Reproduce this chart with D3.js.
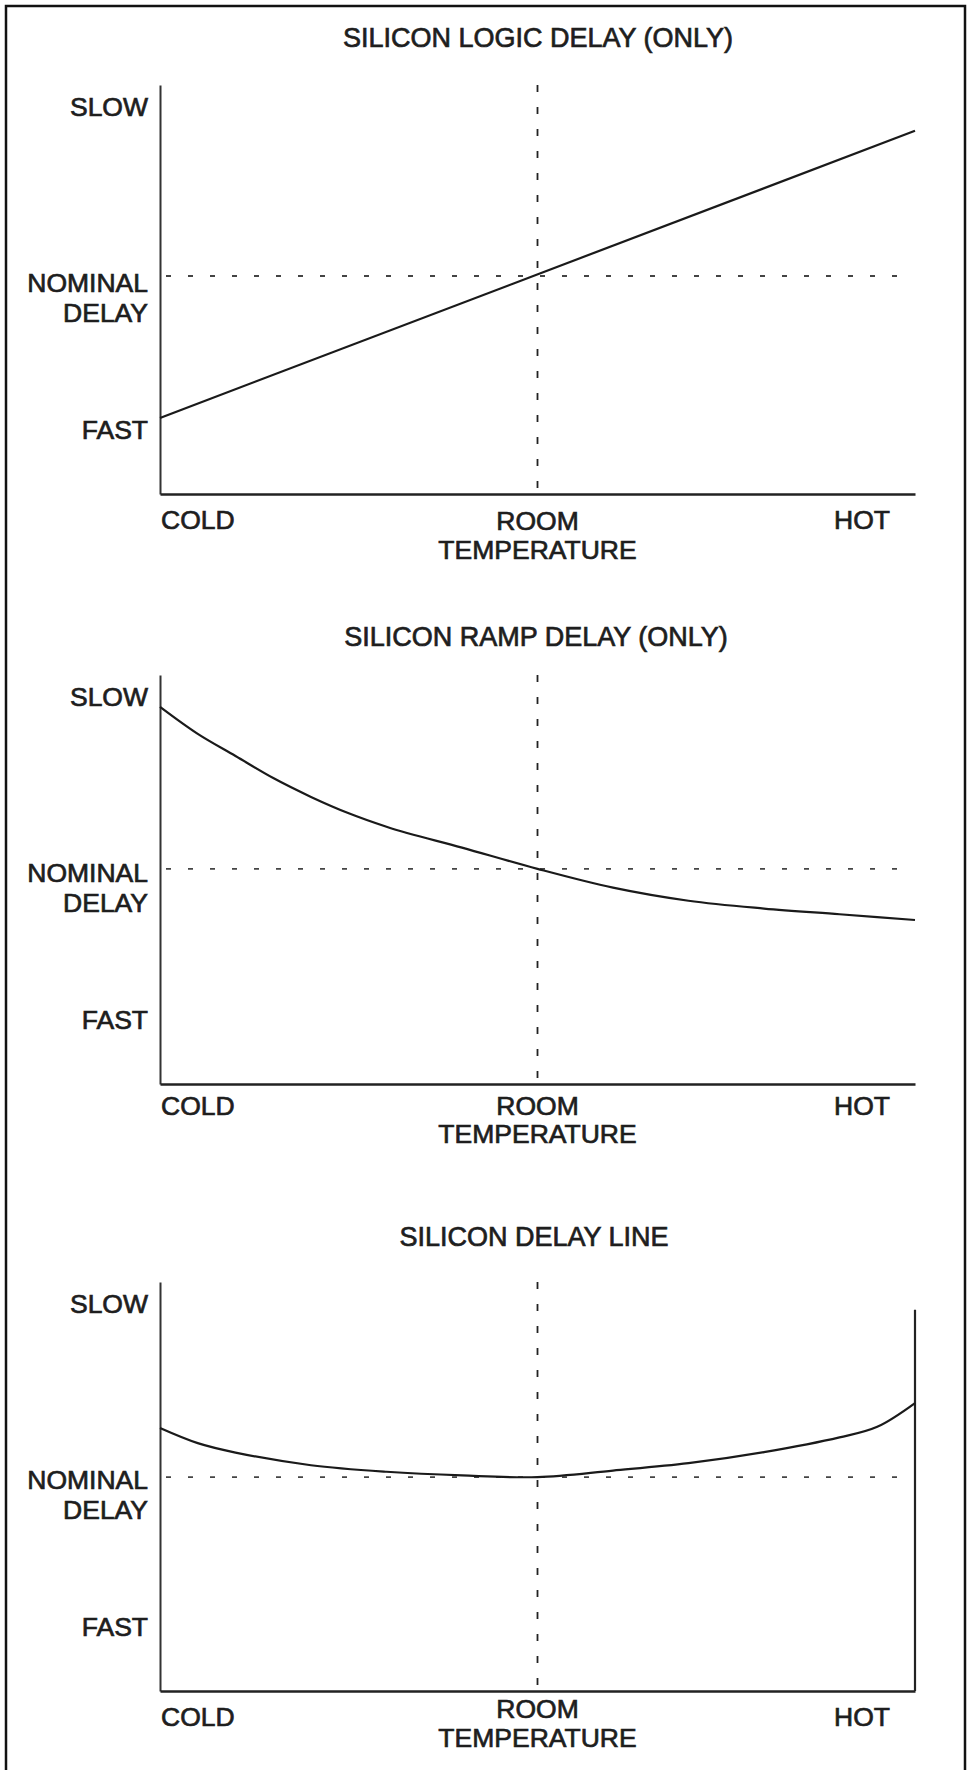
<!DOCTYPE html>
<html>
<head>
<meta charset="utf-8">
<script src="https://cdn.jsdelivr.net/npm/d3@7"></script>
<style>
  html, body { margin: 0; padding: 0; background: #fff; }
  svg { display: block; }
  text { font-family: "Liberation Sans", Arial, Helvetica, sans-serif; fill: #1e1e1e; }
</style>
</head>
<body>
<svg id="chart" width="969" height="1770"></svg>
<script>
// ---------------- DATA ----------------
const titles = ["SILICON LOGIC DELAY (ONLY)", "SILICON RAMP DELAY (ONLY)", "SILICON DELAY LINE"];

// x categories (temperature), positions on a 0..100 temperature scale
const xCategories = ["COLD", "ROOM", "HOT"];
const xCategoryValues = [0, 50, 100];
const roomSubLabel = "TEMPERATURE";

// y levels (delay), positions on a 0..100 delay scale (label baselines)
const yLevelLabels = [["SLOW"], ["NOMINAL", "DELAY"], ["FAST"]];
const yLevelValues = [92.3, 49.3, 13.4];

// nominal delay level of each panel
const nominalDelay = [53.3, 52.6, 52.3];

// Panel 1: silicon logic delay (linear)
const logicTemp  = [0, 100];
const logicDelay = [18.6, 88.8];

// Panel 2: silicon ramp delay
const rampTemp  = [0, 5, 10, 15, 20, 25, 30, 40, 50, 60, 70, 80, 90, 100];
const rampDelay = [92.2, 85.6, 80.2, 74.8, 70.2, 66.2, 62.9, 57.8, 52.6, 48.0, 44.8, 42.9, 41.5, 40.1];

// Panel 3: silicon delay line (compensated)
const lineTemp  = [0, 5, 10, 20, 30, 40, 50, 60, 70, 80, 90, 95, 100];
const lineDelay = [64.3, 60.6, 58.3, 55.2, 53.6, 52.7, 52.3, 53.9, 55.7, 58.4, 62.0, 64.6, 70.4];
// right-hand boundary line of panel 3 (delay level of its top)
const lineRightEdgeTop = 93.2;

// ---------------- LAYOUT ----------------
const svg = d3.select("#chart");
const X0 = 160, X1 = 915, PH = 409;
const panels = [
  { bottom: 494,  titleY: 47,   titleX: 538, coldDy: 35, roomDy: 36, tempDy: 65, curve: d3.curveLinear, tx: logicTemp, dy: logicDelay, rightEdge: false },
  { bottom: 1084, titleY: 646,  titleX: 536, coldDy: 31, roomDy: 31, tempDy: 59, curve: d3.curveMonotoneX, tx: rampTemp, dy: rampDelay, rightEdge: false },
  { bottom: 1691, titleY: 1246, titleX: 534, coldDy: 35, roomDy: 27, tempDy: 56, curve: d3.curveCatmullRom.alpha(0.5), tx: lineTemp, dy: lineDelay, rightEdge: true }
];

const x = d3.scaleLinear().domain([0, 100]).range([X0, X1]);
const TS = 0.7; // text stroke for the slightly heavy scanned lettering

// outer frame (top, left, right)
svg.append("path")
  .attr("d", `M6,1770 L6,6 L965,6 L965,1770`)
  .attr("fill", "none").attr("stroke", "#111").attr("stroke-width", 2.5);

panels.forEach((p, i) => {
  const y = d3.scaleLinear().domain([0, 100]).range([p.bottom, p.bottom - PH]);
  const g = svg.append("g");

  // title
  g.append("text")
    .attr("x", p.titleX).attr("y", p.titleY)
    .attr("text-anchor", "middle")
    .attr("font-size", 27)
    .attr("stroke", "#1e1e1e").attr("stroke-width", TS)
    .text(titles[i]);

  // nominal delay dashed line
  g.append("line")
    .attr("x1", x(0) + 2).attr("x2", x(99))
    .attr("y1", y(nominalDelay[i])).attr("y2", y(nominalDelay[i]))
    .attr("stroke", "#444").attr("stroke-width", 1.8)
    .attr("stroke-dasharray", "5,17").attr("stroke-dashoffset", -4);

  // room temperature dashed line
  g.append("line")
    .attr("x1", x(xCategoryValues[1])).attr("x2", x(xCategoryValues[1]))
    .attr("y1", y(100)).attr("y2", y(0))
    .attr("stroke", "#222").attr("stroke-width", 1.8)
    .attr("stroke-dasharray", "7,15");

  // axes: left and bottom lines
  const yAxis = d3.axisLeft(y).tickValues([]).tickSizeOuter(0);
  const ya = g.append("g").attr("transform", `translate(${X0},0)`).call(yAxis);
  ya.select(".domain").attr("stroke", "#333").attr("stroke-width", 2);

  const xAxis = d3.axisBottom(x).tickValues([]).tickSizeOuter(0);
  const xa = g.append("g").attr("transform", `translate(0,${p.bottom})`).call(xAxis);
  xa.select(".domain").attr("stroke", "#222").attr("stroke-width", 2.6);

  if (p.rightEdge) {
    g.append("line")
      .attr("x1", x(100)).attr("x2", x(100))
      .attr("y1", y(lineRightEdgeTop)).attr("y2", y(0))
      .attr("stroke", "#222").attr("stroke-width", 2.2);
  }

  // data curve
  const pts = p.tx.map((t, k) => [t, p.dy[k]]);
  g.append("path")
    .datum(pts)
    .attr("fill", "none")
    .attr("stroke", "#1a1a1a").attr("stroke-width", 2.2)
    .attr("d", d3.line().x(d => x(d[0])).y(d => y(d[1])).curve(p.curve));

  // y level labels
  yLevelLabels.forEach((lines, k) => {
    const t = g.append("text")
      .attr("x", 148).attr("y", y(yLevelValues[k]))
      .attr("text-anchor", "end")
      .attr("font-size", 26.5)
      .attr("stroke", "#1e1e1e").attr("stroke-width", TS);
    lines.forEach((s, j) => {
      t.append("tspan").attr("x", 148).attr("dy", j === 0 ? 0 : 30).text(s);
    });
  });

  // x category labels
  const lab = (tx, ty, anchor, s) => g.append("text")
    .attr("x", tx).attr("y", ty)
    .attr("text-anchor", anchor).attr("font-size", 26.5)
    .attr("stroke", "#1e1e1e").attr("stroke-width", TS)
    .text(s);
  lab(x(xCategoryValues[0]) + 1, p.bottom + p.coldDy, "start", xCategories[0]);
  lab(x(xCategoryValues[1]), p.bottom + p.roomDy, "middle", xCategories[1]);
  lab(x(xCategoryValues[1]), p.bottom + p.tempDy, "middle", roomSubLabel);
  lab(x(xCategoryValues[2]) - 25, p.bottom + p.coldDy, "end", xCategories[2]);
});
</script>
</body>
</html>
